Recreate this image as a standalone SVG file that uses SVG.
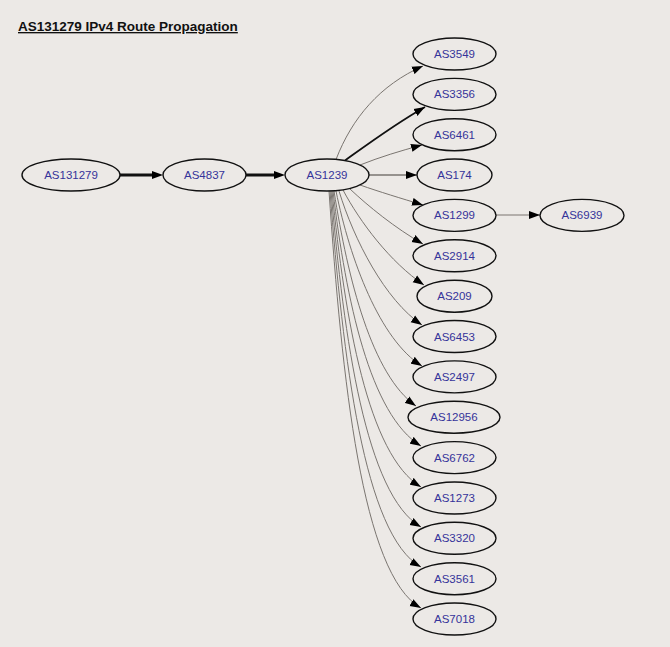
<svg xmlns="http://www.w3.org/2000/svg" width="670" height="647" viewBox="0 0 670 647">
<style>
.bg{fill:#ece9e6}
.node ellipse{fill:#ece9e6;stroke:#111;stroke-width:1.4}
.node text{font-family:"Liberation Sans",Arial,sans-serif;font-size:11.5px;fill:#35339a;text-anchor:middle;dominant-baseline:central}
.e{fill:none;stroke:#7a7570;stroke-width:1}
.em{fill:none;stroke:#111;stroke-width:1.8}
.eb{fill:none;stroke:#111;stroke-width:3}
.title{font-family:"Liberation Sans",Arial,sans-serif;font-size:13.5px;font-weight:bold;fill:#111;text-decoration:underline}
</style>
<defs>
<marker id="arrow" markerUnits="userSpaceOnUse" markerWidth="11" markerHeight="9" refX="11" refY="4.5" orient="auto"><path d="M0,0.5 L11,4.5 L0,8.5 z" fill="#000"/></marker>
<marker id="arrowb" markerUnits="userSpaceOnUse" markerWidth="11" markerHeight="9" refX="0" refY="4.5" orient="auto"><path d="M0,0.5 L11,4.5 L0,8.5 z" fill="#000"/></marker>
</defs>
<rect class="bg" x="0" y="0" width="670" height="647"/>
<text class="title" x="18" y="31">AS131279 IPv4 Route Propagation</text>
<g id="edges">
<path class="eb" d="M120,175 L152,175" marker-end="url(#arrowb)"/>
<path class="eb" d="M246,175 L274,175" marker-end="url(#arrowb)"/>
<path class="e" d="M336,159.5 C352,118 380,85 423,66" marker-end="url(#arrow)"/>
<path class="em" d="M345,160.5 C368,144 395,124 425,107" marker-end="url(#arrow)"/>
<path class="e" d="M360,165 C380,157 400,151 422,145" marker-end="url(#arrow)"/>
<path class="e" d="M369,175 L417,175" marker-end="url(#arrow)" style="stroke-width:1.4"/>
<path class="e" d="M360,185 C380,192 400,198 423,205" marker-end="url(#arrow)"/>
<path class="e" d="M350,189 C368,206 395,228 423,244" marker-end="url(#arrow)"/>
<path class="e" d="M343,190 C360,222 390,262 424,285" marker-end="url(#arrow)"/>
<path class="e" d="M339,191 C354,240 385,300 422,325" marker-end="url(#arrow)"/>
<path class="e" d="M336,191 C350,260 380,340 422,366" marker-end="url(#arrow)"/>
<path class="e" d="M334,191 C348,280 372,375 416,406" marker-end="url(#arrow)"/>
<path class="e" d="M333,191 C346,300 370,415 421,446" marker-end="url(#arrow)"/>
<path class="e" d="M332,191 C345,320 368,455 421,487" marker-end="url(#arrow)"/>
<path class="e" d="M331,191 C344,340 366,495 421,527" marker-end="url(#arrow)"/>
<path class="e" d="M330,191 C343,360 364,535 421,567" marker-end="url(#arrow)"/>
<path class="e" d="M329,191 C342,380 362,575 421,608" marker-end="url(#arrow)"/>
<path class="e" d="M496,215 L540,215" marker-end="url(#arrow)"/>
</g>
<g id="AS131279" class="node"><ellipse cx="71" cy="175" rx="49" ry="16"/><text x="71" y="175">AS131279</text></g>
<g id="AS4837" class="node"><ellipse cx="204.5" cy="175" rx="41.5" ry="16"/><text x="204.5" y="175">AS4837</text></g>
<g id="AS1239" class="node"><ellipse cx="327" cy="175" rx="42" ry="16"/><text x="327" y="175">AS1239</text></g>
<g id="AS3549" class="node"><ellipse cx="454.5" cy="54" rx="41.5" ry="16"/><text x="454.5" y="54">AS3549</text></g>
<g id="AS3356" class="node"><ellipse cx="454.5" cy="94.4" rx="41.5" ry="16"/><text x="454.5" y="94.4">AS3356</text></g>
<g id="AS6461" class="node"><ellipse cx="454.5" cy="134.7" rx="41.5" ry="16"/><text x="454.5" y="134.7">AS6461</text></g>
<g id="AS174" class="node"><ellipse cx="454.5" cy="175" rx="37.5" ry="16"/><text x="454.5" y="175">AS174</text></g>
<g id="AS1299" class="node"><ellipse cx="454.5" cy="215.4" rx="41.5" ry="16"/><text x="454.5" y="215.4">AS1299</text></g>
<g id="AS6939" class="node"><ellipse cx="582" cy="215.4" rx="42" ry="16"/><text x="582" y="215.4">AS6939</text></g>
<g id="AS2914" class="node"><ellipse cx="454.5" cy="255.8" rx="41.5" ry="16"/><text x="454.5" y="255.8">AS2914</text></g>
<g id="AS209" class="node"><ellipse cx="454.5" cy="296.2" rx="37.5" ry="16"/><text x="454.5" y="296.2">AS209</text></g>
<g id="AS6453" class="node"><ellipse cx="454.5" cy="336.5" rx="41.5" ry="16"/><text x="454.5" y="336.5">AS6453</text></g>
<g id="AS2497" class="node"><ellipse cx="454.5" cy="376.9" rx="41.5" ry="16"/><text x="454.5" y="376.9">AS2497</text></g>
<g id="AS12956" class="node"><ellipse cx="454" cy="417.2" rx="46" ry="16"/><text x="454" y="417.2">AS12956</text></g>
<g id="AS6762" class="node"><ellipse cx="454.5" cy="457.6" rx="41.5" ry="16"/><text x="454.5" y="457.6">AS6762</text></g>
<g id="AS1273" class="node"><ellipse cx="454.5" cy="498" rx="41.5" ry="16"/><text x="454.5" y="498">AS1273</text></g>
<g id="AS3320" class="node"><ellipse cx="454.5" cy="538.3" rx="41.5" ry="16"/><text x="454.5" y="538.3">AS3320</text></g>
<g id="AS3561" class="node"><ellipse cx="454.5" cy="578.7" rx="41.5" ry="16"/><text x="454.5" y="578.7">AS3561</text></g>
<g id="AS7018" class="node"><ellipse cx="454.5" cy="619" rx="41.5" ry="16"/><text x="454.5" y="619">AS7018</text></g>
</svg>
